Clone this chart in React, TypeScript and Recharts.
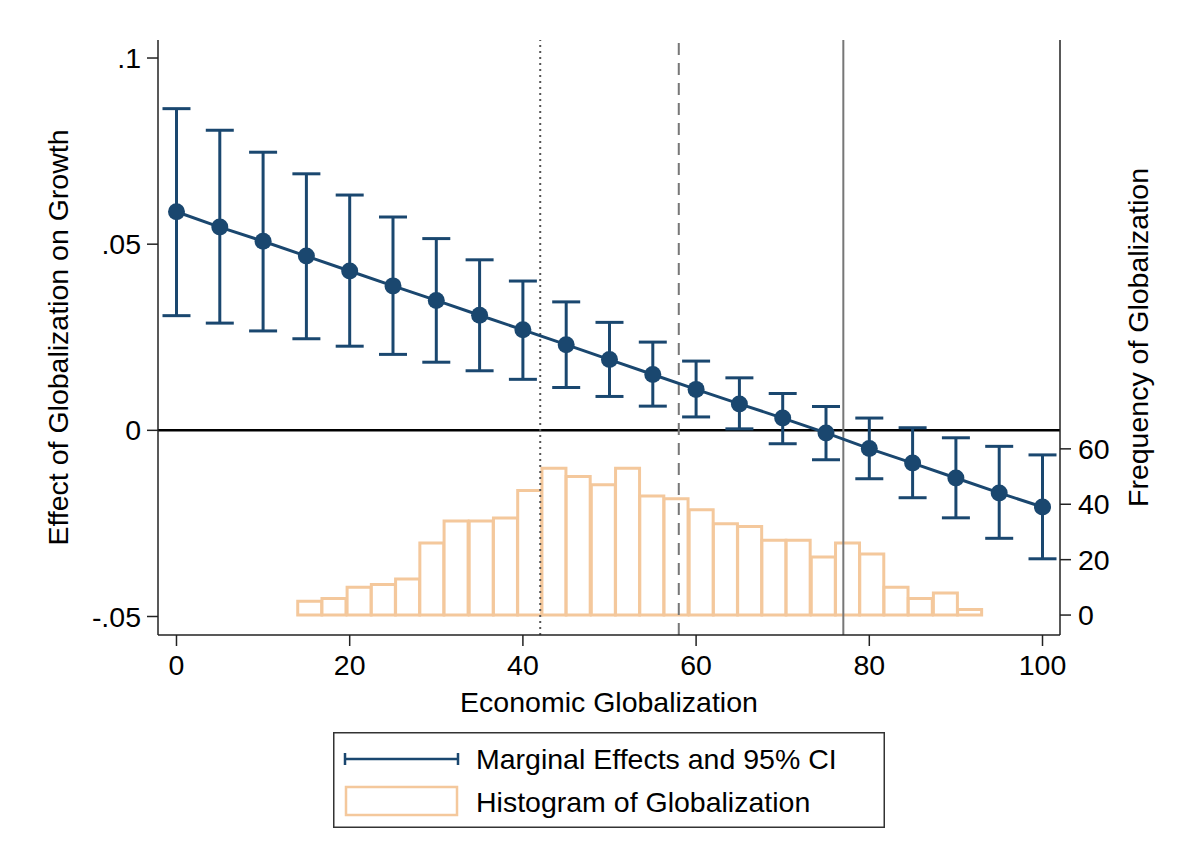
import React from 'react';
import {
  ComposedChart, Bar, Scatter, ErrorBar, XAxis, YAxis,
  ReferenceLine, Legend,
} from 'recharts';

// marginal effects (x = 0..100 by 5)
const levels = [0, 5, 10, 15, 20, 25, 30, 35, 40, 45, 50, 55, 60, 65, 70, 75, 80, 85, 90, 95, 100];
const effect = [0.0587, 0.0546, 0.0508, 0.0468, 0.0428, 0.0388, 0.0349, 0.0309, 0.0270, 0.0230, 0.0190,
  0.0150, 0.0110, 0.0071, 0.0033, -0.0007, -0.0049, -0.0088, -0.0128, -0.0168, -0.0206];
const ciUpper = [0.0864, 0.0806, 0.0747, 0.0689, 0.0632, 0.0573, 0.0515, 0.0458, 0.0401, 0.0345, 0.0290,
  0.0237, 0.0186, 0.0141, 0.0099, 0.0064, 0.0033, 0.0007, -0.0020, -0.0043, -0.0066];
const ciLower = [0.0308, 0.0288, 0.0267, 0.0246, 0.0226, 0.0204, 0.0183, 0.0160, 0.0137, 0.0115, 0.0091,
  0.0065, 0.0036, 0.0004, -0.0036, -0.0079, -0.0130, -0.0181, -0.0235, -0.0290, -0.0345];

// histogram of globalization: bin midpoints and counts
const binMids = [15.4, 18.2, 21.1, 23.9, 26.7, 29.5, 32.3, 35.2, 38.0, 40.8, 43.6, 46.4, 49.3, 52.1,
  54.9, 57.7, 60.6, 63.4, 66.2, 69.0, 71.8, 74.7, 77.5, 80.3, 83.1, 85.9, 88.8, 91.6];
const binCounts = [5, 6, 10, 11, 13, 26, 34, 34, 35, 45, 53, 50, 47, 53, 43, 42, 38, 33, 32, 27, 27,
  21, 26, 22, 10, 6, 8, 2];

const xTicks = [0, 20, 40, 60, 80, 100];
const leftTicks = [-0.05, 0, 0.05, 0.1];
const rightTicks = [0, 20, 40, 60];
const refLines = { dotted: 42, dashed: 58, solid: 77 };

const NAVY = '#1a476f';
const SAND = '#f4c89c';
const FONT = '"Liberation Sans", Arial, Helvetica, sans-serif';
const FS = 28.5;
const X_DOMAIN: [number, number] = [-2.135, 102.02];

const histData = binMids.map((x, i) => ({ x, freq: binCounts[i] }));
const effectData = levels.map((x, i) => ({
  x,
  y: effect[i],
  err: [effect[i] - ciLower[i], ciUpper[i] - effect[i]],
}));

const fmtLeft = (v: number) => (v === 0 ? '0' : String(v).replace('0.', '.'));
const tickStyle = { fill: '#000', fontSize: FS, fontFamily: FONT };
const axisStroke = { stroke: '#222', strokeWidth: 1.5 };

function LeftTitle({ viewBox }: any) {
  const cx = viewBox.x;
  const cy = viewBox.y + viewBox.height / 2;
  return (
    <text x={cx} y={cy} transform={`rotate(-90 ${cx} ${cy})`} textAnchor="middle"
      dominantBaseline="central" fill="#000" fontSize={FS} fontFamily={FONT}>
      Effect of Globalization on Growth
    </text>
  );
}

function RightTitle({ viewBox }: any) {
  const cx = viewBox.x + 78;
  const cy = viewBox.y + viewBox.height / 2;
  return (
    <text x={cx} y={cy} transform={`rotate(-90 ${cx} ${cy})`} textAnchor="middle"
      dominantBaseline="central" fill="#000" fontSize={FS} fontFamily={FONT}>
      Frequency of Globalization
    </text>
  );
}

function BottomTitle({ viewBox }: any) {
  return (
    <text x={viewBox.x + viewBox.width / 2} y={viewBox.y + 67} textAnchor="middle"
      dominantBaseline="central" fill="#000" fontSize={FS} fontFamily={FONT}>
      Economic Globalization
    </text>
  );
}

function LegendBox() {
  return (
    <svg width={552} height={96} style={{ display: 'block' }}>
      <rect x={0.75} y={0.75} width={550.5} height={94.5} fill="#fff" stroke="#333" strokeWidth={1.5} />
      <line x1={12} y1={27} x2={125} y2={27} stroke={NAVY} strokeWidth={2.5} />
      <line x1={12} y1={21} x2={12} y2={33} stroke={NAVY} strokeWidth={2.5} />
      <line x1={125} y1={21} x2={125} y2={33} stroke={NAVY} strokeWidth={2.5} />
      <rect x={13} y={55} width={111} height={28} fill="#fff" stroke={SAND} strokeWidth={2.5} />
      <text x={143} y={27} dominantBaseline="central" fontSize={FS} fontFamily={FONT} fill="#000">
        Marginal Effects and 95% CI
      </text>
      <text x={143} y={69.5} dominantBaseline="central" fontSize={FS} fontFamily={FONT} fill="#000">
        Histogram of Globalization
      </text>
    </svg>
  );
}

export default function App() {
  return (
    <div>
      <style>{'body{margin:0;background:#fff}'}</style>
      <ComposedChart width={1200} height={863} data={histData}
        margin={{ top: 40, right: 60, bottom: 168, left: 58 }}>
        <XAxis type="number" dataKey="x" domain={X_DOMAIN} ticks={xTicks} allowDataOverflow
          height={60} tickSize={11} tickMargin={9} tick={tickStyle}
          axisLine={axisStroke} tickLine={axisStroke}
          label={{ content: BottomTitle }} />
        {/* hidden twin axis so the histogram bins get their own band size */}
        <XAxis xAxisId="hist" type="number" dataKey="x" domain={X_DOMAIN} allowDataOverflow hide />
        <YAxis yAxisId="left" dataKey="y" type="number" domain={[-0.05497, 0.10484]} ticks={leftTicks}
          allowDataOverflow width={100} tickSize={11} tickMargin={6} tick={tickStyle}
          tickFormatter={fmtLeft} axisLine={axisStroke} tickLine={axisStroke}
          label={{ content: LeftTitle }} />
        <YAxis yAxisId="right" orientation="right" type="number" domain={[-7.2, 207.6]} ticks={rightTicks}
          allowDataOverflow width={80} tickSize={11} tickMargin={7} tick={tickStyle}
          axisLine={axisStroke} tickLine={axisStroke}
          label={{ content: RightTitle }} />

        <Bar xAxisId="hist" yAxisId="right" dataKey="freq" barSize={24} fill="#fff" stroke={SAND}
          strokeWidth={3} isAnimationActive={false} />

        <ReferenceLine yAxisId="left" y={0} stroke="#000" strokeWidth={2.5} />
        <ReferenceLine yAxisId="left" x={refLines.dotted} stroke="#555" strokeWidth={2} strokeDasharray="2 4" />
        <ReferenceLine yAxisId="left" x={refLines.dashed} stroke="#777" strokeWidth={2} strokeDasharray="12 8" />
        <ReferenceLine yAxisId="left" x={refLines.solid} stroke="#777" strokeWidth={2} />

        <Scatter yAxisId="left" data={effectData} line={{ stroke: NAVY, strokeWidth: 3 }}
          shape={(p: any) => <circle cx={p.cx} cy={p.cy} r={8.5} fill={NAVY} />}
          isAnimationActive={false}>
          <ErrorBar dataKey="err" direction="y" width={14} stroke={NAVY} strokeWidth={3}
            isAnimationActive={false} />
        </Scatter>

        <Legend layout="horizontal" verticalAlign="middle" align="center" content={LegendBox}
          wrapperStyle={{ left: 333, top: 732, width: 552, height: 96 }} />
      </ComposedChart>
    </div>
  );
}
